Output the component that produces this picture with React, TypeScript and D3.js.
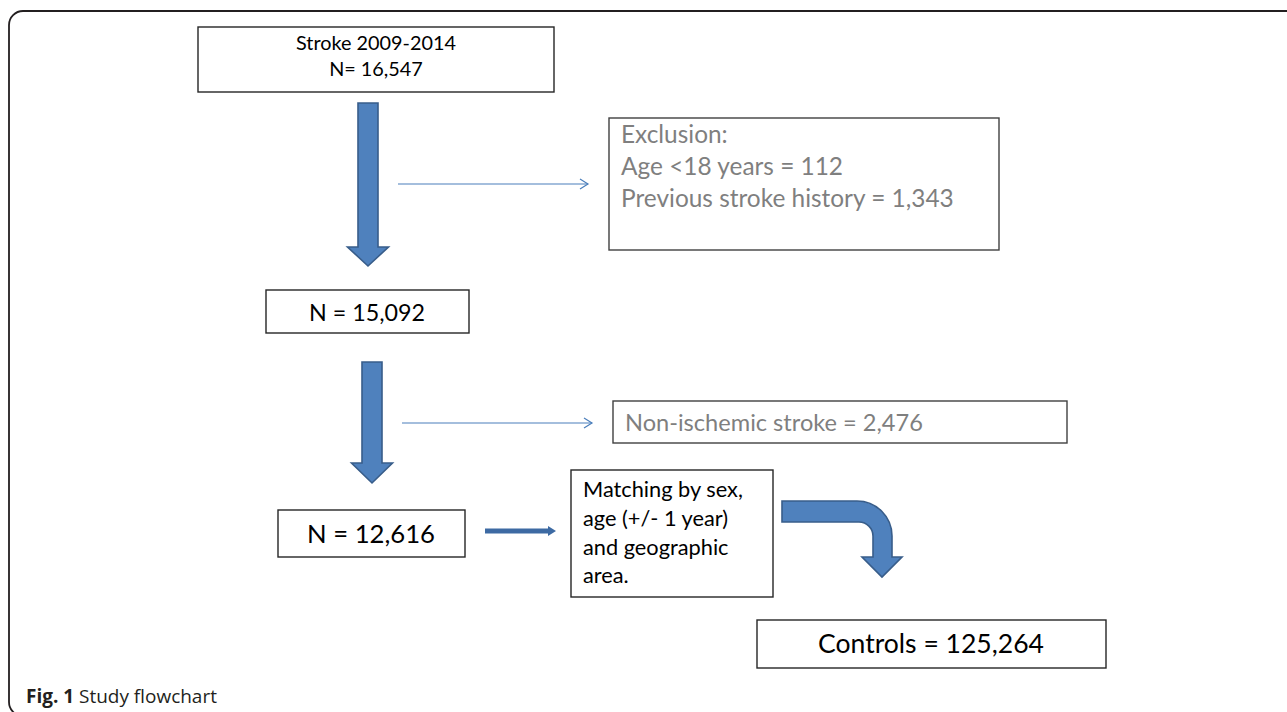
import { useEffect, useRef } from 'react';
import * as d3 from 'd3';

const W = 1287;
const H = 712;

// flowchart content
const studyPeriod = '2009-2014';
const cohortCounts = [16547, 15092, 12616];
const exclusionLabels = ['Age <18 years', 'Previous stroke history'];
const exclusionCounts = [112, 1343];
const nonIschemicCount = 2476;
const matchingLines = ['Matching by sex,', 'age (+/- 1 year)', 'and geographic', 'area.'];
const controlCount = 125264;
const captionParts = ['Fig. 1', ' Study flowchart'];

const fmt = d3.format(',');
const FONT = 'Lato, "Open Sans", sans-serif';
const ARROW_FILL = '#4f81bd';
const ARROW_STROKE = '#385d8a';
const THIN_BLUE = '#4a7ebb';
const GRAY_TEXT = '#7f7f7f';

type Sel = d3.Selection<SVGGElement, unknown, null, undefined>;

// write lines of text and scale the font so the reference line has the wanted width
function addLines(
  g: Sel,
  lines: string[],
  opt: { x: number; y: number[]; anchor: string; width: number; ref?: number; fill?: string }
) {
  const t = g.selectAll(null)
    .data(lines)
    .enter()
    .append('text')
    .attr('x', opt.x)
    .attr('y', (_, i) => opt.y[i])
    .attr('text-anchor', opt.anchor)
    .attr('fill', opt.fill || '#000')
    .style('font-family', FONT)
    .style('font-size', '20px')
    .text(d => d);
  const node = t.nodes()[opt.ref ?? 0] as SVGTextElement;
  const len = node.getComputedTextLength();
  if (len > 0) t.style('font-size', `${(20 * opt.width) / len}px`);
}

function addBox(g: Sel, x0: number, y0: number, x1: number, y1: number, stroke = '#262626') {
  g.append('rect')
    .attr('x', x0).attr('y', y0)
    .attr('width', x1 - x0).attr('height', y1 - y0)
    .attr('fill', '#fff')
    .attr('stroke', stroke)
    .attr('stroke-width', 1.4);
}

// big block arrow pointing down
function downArrow(g: Sel, cx: number, top: number, headBase: number, tip: number) {
  const p = d3.path();
  p.moveTo(cx - 10, top);
  p.lineTo(cx + 10, top);
  p.lineTo(cx + 10, headBase);
  p.lineTo(cx + 20.5, headBase);
  p.lineTo(cx, tip);
  p.lineTo(cx - 20.5, headBase);
  p.lineTo(cx - 10, headBase);
  p.closePath();
  g.append('path').attr('d', p.toString())
    .attr('fill', ARROW_FILL).attr('stroke', ARROW_STROKE).attr('stroke-width', 1.6)
    .attr('stroke-linejoin', 'miter');
}

function thinArrow(g: Sel, x0: number, x1: number, y: number) {
  g.append('line').attr('x1', x0).attr('x2', x1).attr('y1', y).attr('y2', y)
    .attr('stroke', THIN_BLUE).attr('stroke-width', 1.2);
  g.append('path')
    .attr('d', `M${x1 - 8},${y - 5}L${x1},${y}L${x1 - 8},${y + 5}`)
    .attr('fill', 'none').attr('stroke', THIN_BLUE).attr('stroke-width', 1.2);
}

const App = () => {
  const ref = useRef<SVGSVGElement | null>(null);

  useEffect(() => {
    if (!ref.current) return;
    const svg = d3.select(ref.current);
    svg.selectAll('*').remove();
    const g = svg.append('g') as unknown as Sel;

    g.append('rect').attr('width', W).attr('height', H).attr('fill', '#fff');

    // outer frame, rounded on the left, running off the right and bottom edges
    g.append('rect')
      .attr('x', 9).attr('y', 11)
      .attr('width', 1320).attr('height', 705)
      .attr('rx', 14)
      .attr('fill', 'none').attr('stroke', '#231f20').attr('stroke-width', 1.8);

    // top box
    addBox(g, 198, 27, 554, 92);
    addLines(g, [`Stroke ${studyPeriod}`, `N= ${fmt(cohortCounts[0])}`], {
      x: 376, y: [50, 76], anchor: 'middle', width: 160
    });

    downArrow(g, 368, 103, 247, 266);
    thinArrow(g, 398, 588, 184);

    // exclusion box
    addBox(g, 609, 118, 999, 250, '#404040');
    addLines(
      g,
      ['Exclusion:', ...exclusionLabels.map((l, i) => `${l} = ${fmt(exclusionCounts[i])}`)],
      { x: 621, y: [143, 175, 207], anchor: 'start', width: 333, ref: 2, fill: GRAY_TEXT }
    );

    // after exclusion
    addBox(g, 266, 290, 469, 333);
    addLines(g, [`N = ${fmt(cohortCounts[1])}`], { x: 367, y: [321], anchor: 'middle', width: 116 });

    downArrow(g, 372, 362, 463, 483);
    thinArrow(g, 402, 592, 423);

    addBox(g, 613, 401, 1067, 443, '#404040');
    addLines(g, [`Non-ischemic stroke = ${fmt(nonIschemicCount)}`], {
      x: 625, y: [431], anchor: 'start', width: 298, fill: GRAY_TEXT
    });

    // ischemic cases
    addBox(g, 278, 510, 465, 557);
    addLines(g, [`N = ${fmt(cohortCounts[2])}`], { x: 371, y: [543], anchor: 'middle', width: 128 });

    // small solid arrow to matching box
    g.append('path')
      .attr('d', 'M485,528.5L548,528.5L548,526L556,531L548,536L548,533.5L485,533.5Z')
      .attr('fill', '#3d6aa3');

    addBox(g, 571, 470, 773, 597);
    addLines(g, matchingLines, { x: 583, y: [497, 526, 555, 583], anchor: 'start', width: 160 });

    // bent arrow
    const p = d3.path();
    p.moveTo(782, 501);
    p.lineTo(857, 501);
    p.arcTo(892, 501, 892, 536, 35);
    p.lineTo(892, 557);
    p.lineTo(902, 557);
    p.lineTo(882, 577);
    p.lineTo(862, 557);
    p.lineTo(873, 557);
    p.lineTo(873, 536);
    p.arcTo(873, 522, 859, 522, 14);
    p.lineTo(782, 522);
    p.closePath();
    g.append('path').attr('d', p.toString())
      .attr('fill', ARROW_FILL).attr('stroke', ARROW_STROKE).attr('stroke-width', 1.6);

    // controls
    addBox(g, 757, 620, 1106, 668);
    addLines(g, [`Controls = ${fmt(controlCount)}`], { x: 931, y: [653], anchor: 'middle', width: 226 });

    // caption
    const cap = g.append('text')
      .attr('x', 26).attr('y', 703)
      .attr('fill', '#231f20')
      .style('font-family', '"Open Sans", sans-serif')
      .style('font-size', '16px');
    cap.append('tspan').attr('font-weight', 'bold').text(captionParts[0]);
    cap.append('tspan').text(captionParts[1]);
    const capLen = (cap.node() as SVGTextElement).getComputedTextLength();
    if (capLen > 0) cap.style('font-size', `${(16 * 191) / capLen}px`);
  }, []);

  return (
    <div style={{ position: 'absolute', left: 0, top: 0 }}>
      <svg ref={ref} width={W} height={H} style={{ display: 'block' }} />
    </div>
  );
};

export default App;
